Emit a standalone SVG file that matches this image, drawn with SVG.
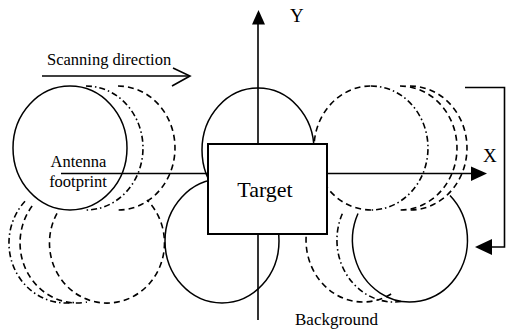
<svg xmlns="http://www.w3.org/2000/svg" width="506" height="331" viewBox="0 0 506 331">
<style>
.s{fill:none;stroke:#000;stroke-width:1.5}
.w{fill:#fff;stroke:#000;stroke-width:1.5}
.d{fill:none;stroke:#000;stroke-width:1.6;stroke-dasharray:6 4}
.dd{fill:none;stroke:#000;stroke-width:1.6;stroke-dasharray:6 3 1.5 3}
.ln{fill:none;stroke:#000;stroke-width:1.6}
.ah{fill:#000;stroke:none}
.t{font-family:"Liberation Serif","Times New Roman",serif;fill:#000}
</style>
<rect width="506" height="331" fill="#fff"/>
<g id="footprints-dashed">
<path class="dd" d="M86,86 A57,62 0 0 1 86,210"/>
<path class="d" d="M118,86 A57,62 0 0 1 118,210"/>
<path class="d" d="M371,210 A57,62 0 0 1 371,86"/>
<path class="dd" d="M371,86 A57,62 0 0 1 371,210"/>
<path class="d" d="M400,86 A57,62 0 0 1 400,210"/>
<path class="d" d="M410,86 A57,62 0 0 1 410,210"/>
<path class="d" d="M57,213.4 A57.5,60 0 1 0 147,200"/>
<path class="dd" d="M25,201.3 A57,60 0 0 0 75.9,302.1"/>
<path class="d" d="M32.1,206.1 A57,60 0 0 0 86.9,302.1"/>
<path class="d" d="M306.1,236.8 A57,62 0 0 0 391.5,293.7"/>
<path class="dd" d="M342.3,213.8 A57,62 0 0 0 403.9,301.1"/>
</g>
<g id="footprint-topleft"><ellipse class="w" cx="70" cy="148" rx="57" ry="62"/></g>
<g id="footprint-topcenter"><ellipse class="s" cx="258" cy="150" rx="56" ry="62"/></g>
<g id="footprint-bottomcenter"><ellipse class="s" cx="222" cy="241" rx="57" ry="62"/></g>
<g id="footprint-bottomright"><path class="s" d="M358,213.5 A57.5,62 0 1 0 450,195.5"/></g>
<g id="connectors">
<line class="ln" x1="258" y1="22" x2="258" y2="320"/>
<polygon class="ah" points="258.5,10 252,24.5 265,24.5"/>
<line class="ln" x1="61" y1="173.5" x2="474" y2="173.5"/>
<polygon class="ah" points="487,173.5 471,166.5 471,181"/>
<line class="ln" x1="42" y1="76" x2="189" y2="76"/>
<polyline class="ln" points="173,68 190,76 172,86"/>
<polyline class="ln" points="465,87.5 504.5,87.5 504.5,247 490,247"/>
<polygon class="ah" points="475,247 492,239 492,255"/>
</g>
<g id="target">
<rect x="208" y="144" width="119" height="90" fill="#fff" stroke="#000" stroke-width="2"/>
<text class="t" x="265" y="197" font-size="22" text-anchor="middle">Target</text>
</g>
<g id="labels">
<text class="t" x="47" y="65" font-size="16.5">Scanning direction</text>
<text class="t" x="78.5" y="166.5" font-size="16.5" text-anchor="middle">Antenna</text>
<text class="t" x="78" y="187" font-size="16.5" text-anchor="middle">footprint</text>
<text class="t" x="290" y="22" font-size="19">Y</text>
<text class="t" x="483" y="162" font-size="19">X</text>
<text class="t" x="295" y="325" font-size="17">Background</text>
</g>
</svg>
